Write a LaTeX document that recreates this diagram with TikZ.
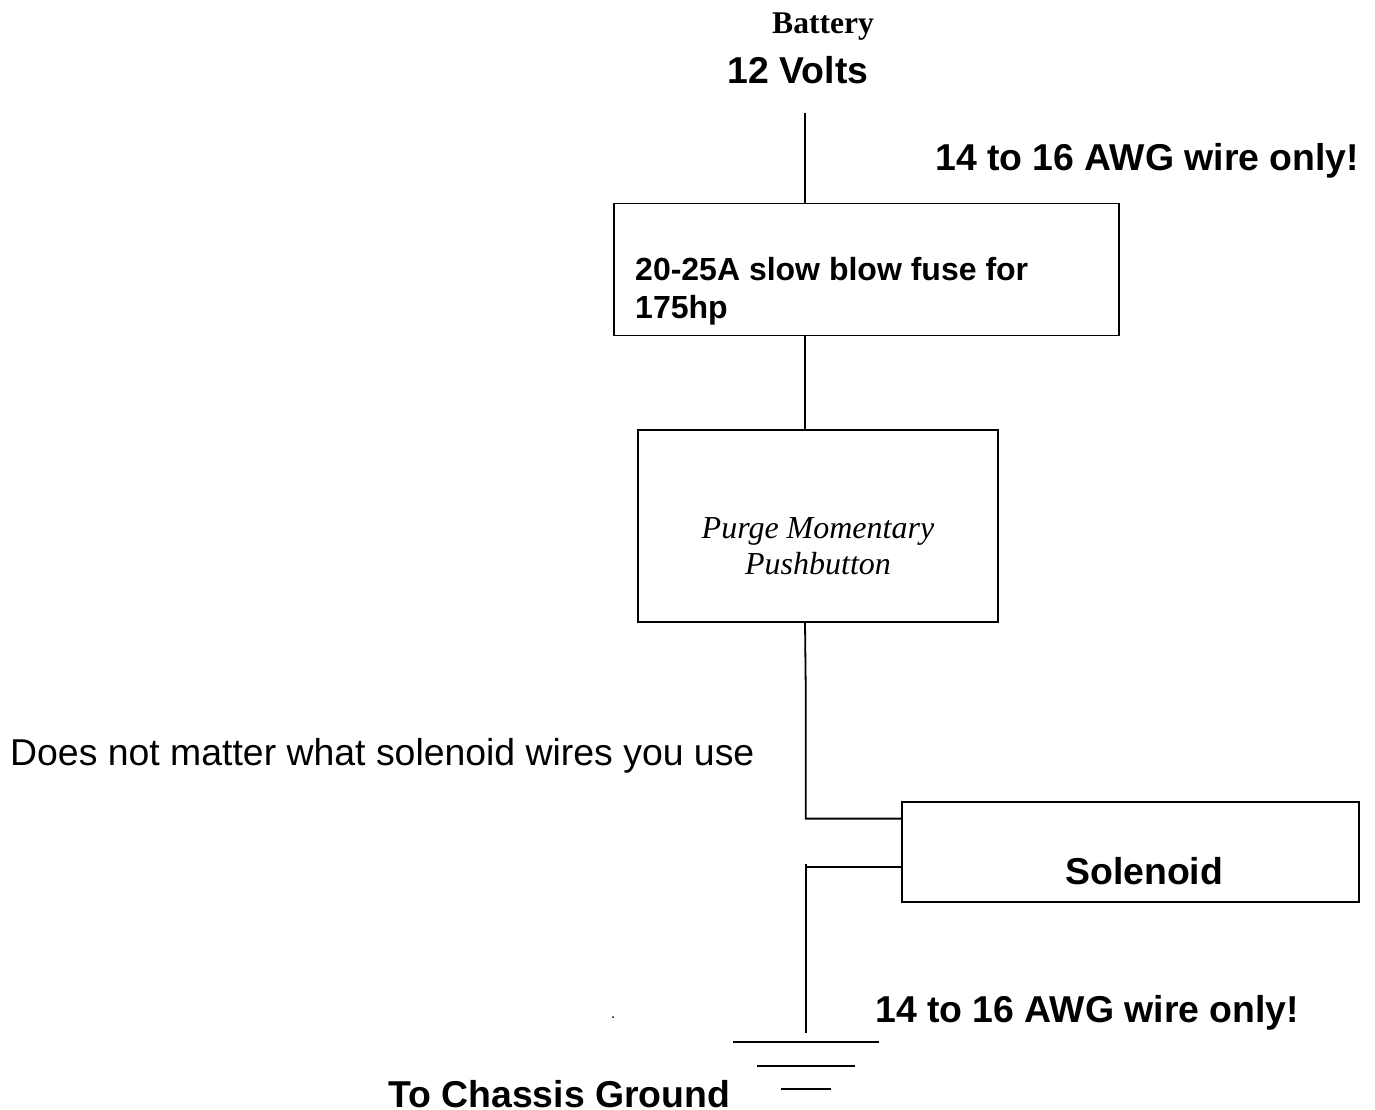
\documentclass[tikz,border=0pt]{standalone}
\usepackage{fontspec}
\setmainfont{Liberation Sans}
\newfontfamily\serif{Liberation Serif}
\begin{document}
\begin{tikzpicture}[x=1pt,y=-1pt,
  wire/.style={line width=1.8pt,black},
  box/.style={draw=black,line width=1.8pt,rectangle,inner sep=0pt,outer sep=0pt,anchor=north west},
  big/.style={inner sep=0pt,anchor=base west,font=\fontsize{37.4}{37.4}\selectfont\bfseries},
  midtxt/.style={inner sep=0pt,anchor=base west,font=\fontsize{32}{32}\selectfont\bfseries},
  ital/.style={inner sep=0pt,anchor=base,font=\serif\itshape\fontsize{32}{32}\selectfont}]
\useasboundingbox (0,0) rectangle (1375,1109);
\node[box,minimum width=505pt,minimum height=132pt] (fuse) at (613.7,203.5) {};
\node[box,minimum width=360pt,minimum height=192pt] (push) at (638,430.3) {};
\node[box,minimum width=457pt,minimum height=100pt] (sol) at (901.7,802) {};
\coordinate (top) at (804.8,112.7);
\coordinate (topb) at (804.8,400);
\coordinate (pushB) at (805,622);
\coordinate (midp) at (805.8,695);
\coordinate (c1) at (805.8,818.6);
\coordinate (c2s) at (805.8,864);
\coordinate (c2) at (805.8,866.7);
\coordinate (g) at (805.8,1033);
\draw[wire] (top) -- (top |- fuse.north);
\draw[wire] (topb |- fuse.south) -- (topb |- push.north);
\draw[wire] (pushB) -- (midp) -- (c1) -- (c1 -| sol.west);
\draw[wire] (c2 -| sol.west) -- (c2);
\draw[wire] (c2s) -- (g);
\coordinate (g1l) at (733,1041.7); \coordinate (g1r) at (878.5,1041.7);
\coordinate (g2l) at (757,1066); \coordinate (g2r) at (854.5,1066);
\coordinate (g3l) at (781,1089.3); \coordinate (g3r) at (830.5,1089.3);
\draw[wire] (g1l) -- (g1r);
\draw[wire] (g2l) -- (g2r);
\draw[wire] (g3l) -- (g3r);
\node[inner sep=0pt,anchor=base west,font=\serif\fontsize{31.6}{31.6}\selectfont\bfseries] (bat) at (772,33.5) {Battery};
\node[big] (v12) at (727.5,83) {12 Volts};
\node[big] (awg1) at (935,170) {14 to 16 AWG wire only!};
\node[midtxt] (f1) at (635,280) {20-25A slow blow fuse for};
\node[midtxt] (f2) at (635,318) {175hp};
\node[ital] (p1) at (818,538) {Purge Momentary};
\node[ital] (p2) at (818,574) {Pushbutton};
\node[inner sep=0pt,anchor=base west,font=\fontsize{37.4}{37.4}\selectfont] (note) at (10,765) {Does not matter what solenoid wires you use};
\node[big] (soltxt) at (1065,884.5) {Solenoid};
\node[big] (awg2) at (875,1022.5) {14 to 16 AWG wire only!};
\node[big] (gnd) at (388,1107) {To Chassis Ground};
\fill (613,1017) circle (1pt);
\end{tikzpicture}
\end{document}
